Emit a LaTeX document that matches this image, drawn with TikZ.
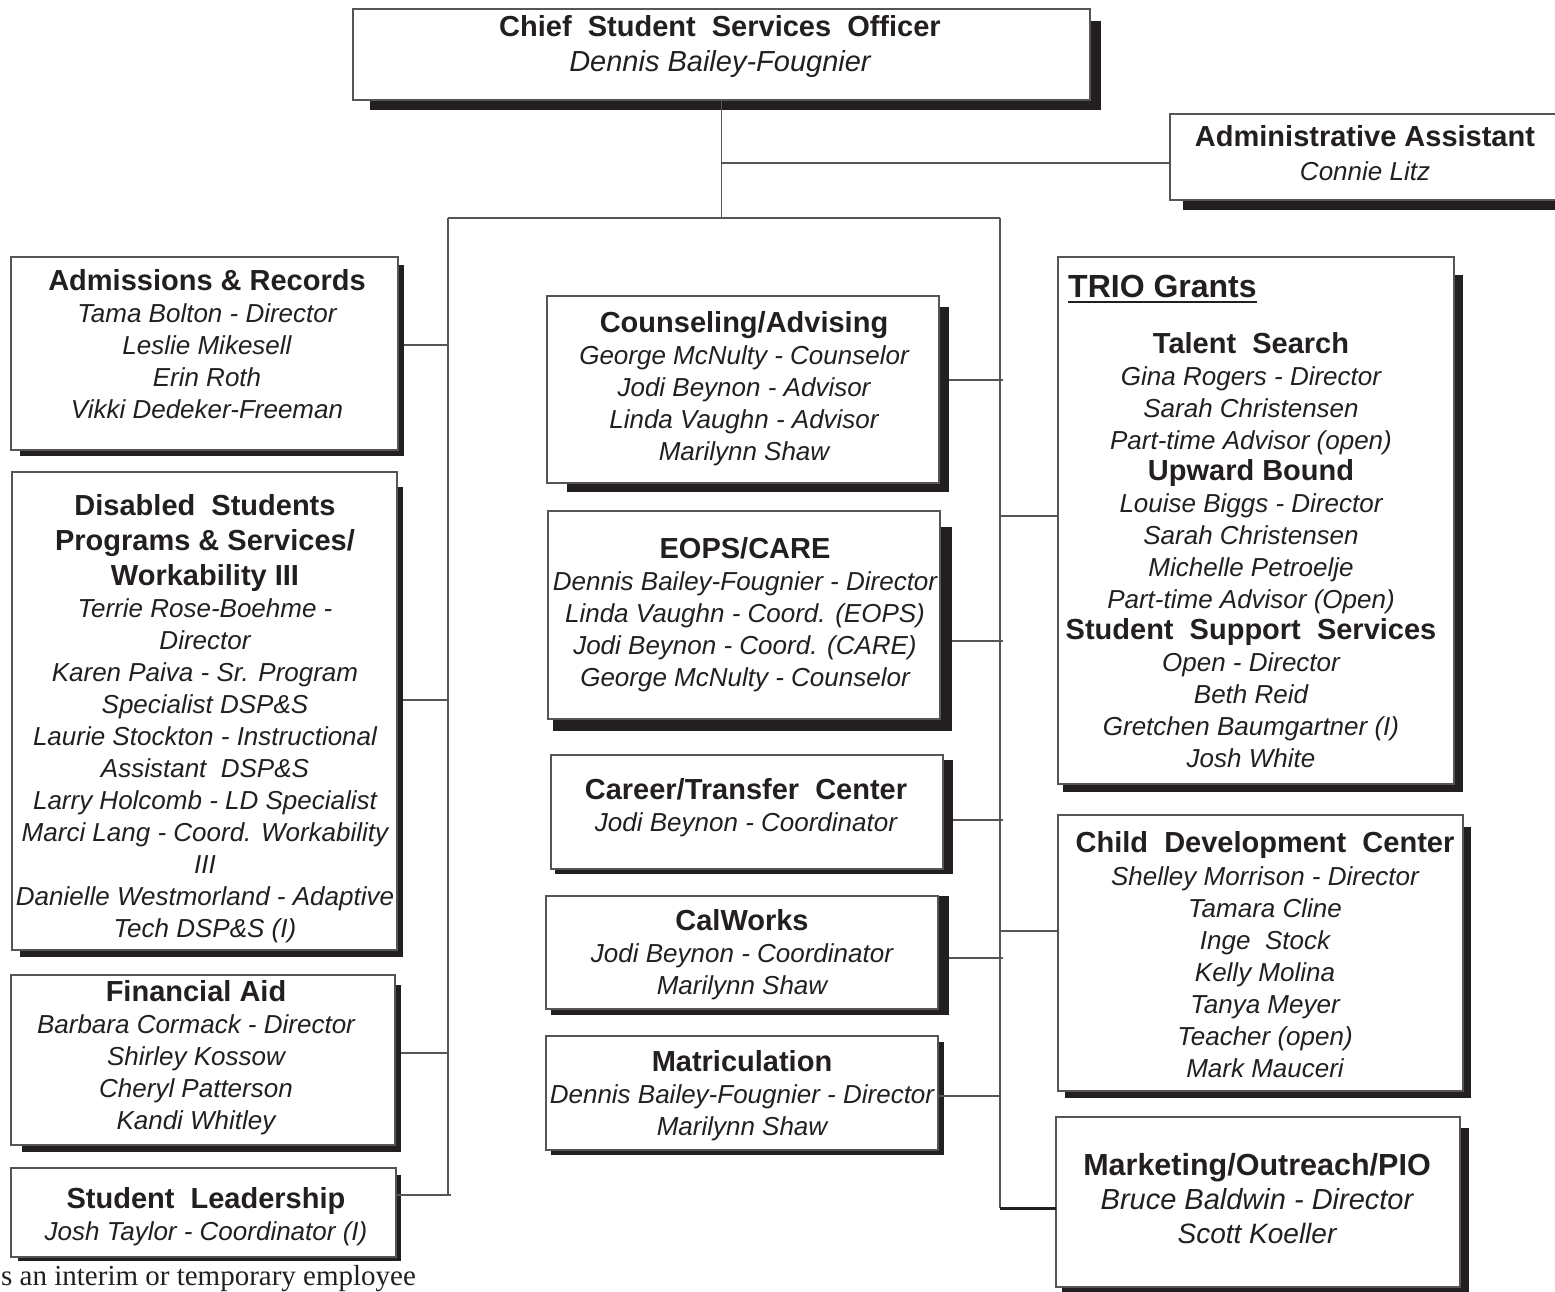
\documentclass[tikz,border=0pt]{standalone}
\usepackage{fontspec}
\setmainfont{Liberation Sans}
\newfontfamily\footfont{Liberation Serif}
\definecolor{ink}{HTML}{231F20}
\definecolor{rulec}{HTML}{555555}
\newcommand\T[1]{{\fontsize{29}{34}\selectfont\bfseries\upshape #1}}
\newcommand\orgbox[9]{%
  \fill[ink] (#6,#7) rectangle (#8,#9);
  \node[boxst, minimum width=#4-#2, minimum height=#5-#3] (#1) at (#2,#3) {};}
\newcommand\txt[4]{%
  \node[txtst] (#1) at (#2,#3) {\begin{tabular}[t]{@{}c@{}}#4\end{tabular}};}
\begin{document}
\begin{tikzpicture}[x=1pt,y=-1pt,
  boxst/.style={draw=rulec, line width=1.5pt, fill=white, inner sep=0pt, outer sep=0pt, anchor=north west},
  txtst/.style={anchor=base, inner sep=0pt, text=ink, font=\fontsize{26}{32}\selectfont\itshape},
  conn/.style={draw=rulec, line width=1.5pt},
  thick conn/.style={draw=ink, line width=3pt}]
\useasboundingbox (0,0) rectangle (1555,1292);
\clip (0,0) rectangle (1555,1292);
\fill[white] (0,0) rectangle (1555,1292);

% bus coordinates
\coordinate (busL) at (448,218);
\coordinate (busR) at (1000,218);
\coordinate (aa) at (720,163);

% connector end points on the buses
\coordinate (cA) at (448,345);
\coordinate (cD) at (448,700);
\coordinate (cF) at (448,1053);
\coordinate (cS) at (451,1195);
\coordinate (cC) at (1003,380);
\coordinate (cE) at (1003,641);
\coordinate (cT) at (1003,820);
\coordinate (cW) at (1003,958);
\coordinate (cM) at (1000,1096);
\coordinate (rT) at (1000,516);
\coordinate (rC) at (1000,931);
\coordinate (rM) at (1000,1208);

% boxes with shadows
\orgbox{chief}{353}{9}{1090}{100}{370}{21}{1101}{110}
\orgbox{admin}{1170}{114}{1562}{200}{1183}{126}{1575}{210}
\orgbox{adm}{11}{257}{398}{450}{20}{265}{404}{456}
\orgbox{dsps}{12}{472}{397}{950}{20}{487}{403}{957}
\orgbox{fin}{11}{975}{395}{1145}{22}{985}{401}{1152}
\orgbox{lead}{11}{1168}{396}{1257}{18}{1175}{401}{1261}
\orgbox{couns}{547}{296}{939}{483}{567}{307}{949}{492}
\orgbox{eops}{548}{511}{940}{719}{553}{527}{952}{731}
\orgbox{career}{551}{755}{943}{869}{555}{760}{953}{874}
\orgbox{calw}{546}{896}{938}{1009}{551}{896}{949}{1015}
\orgbox{matr}{546}{1036}{938}{1150}{551}{1042}{944}{1155}
\orgbox{trio}{1058}{257}{1454}{784}{1063}{275}{1463}{792}
\orgbox{child}{1058}{815}{1463}{1091}{1065}{827}{1471}{1098}
\orgbox{mkt}{1056}{1117}{1460}{1287}{1062}{1128}{1469}{1294}

% trunk lines
\draw[conn] (chief.south) -- (chief.south |- busL);
\draw[conn] (chief.south |- aa) -- (admin.west |- aa);
\draw[conn] (busL) -- (busR);
\draw[conn] (busL) -- (busL |- cS);
\draw[conn] (busR) -- (busR |- rM);

% branch connectors
\draw[conn] (adm.east |- cA) ++(6,0) -- (cA);
\draw[conn] (dsps.east |- cD) ++(6,0) -- (cD);
\draw[conn] (fin.east |- cF) ++(6,0) -- (cF);
\draw[conn] (lead.east |- cS) -- (cS);
\draw[conn] (couns.east |- cC) ++(10,0) -- (cC);
\draw[conn] (eops.east |- cE) ++(12,0) -- (cE);
\draw[conn] (career.east |- cT) ++(10,0) -- (cT);
\draw[conn] (calw.east |- cW) ++(11,0) -- (cW);
\draw[conn] (matr.east |- cM) -- (cM);
\draw[conn] (rT) -- (trio.west |- rT);
\draw[conn] (rC) -- (child.west |- rC);
\draw[thick conn] (rM) -- (mkt.west |- rM);

% texts
\node[txtst] (chieft) at (720,37) {\begin{tabular}[t]{@{}c@{}}\T{Chief\ \ Student\ \ Services\ \ Officer}\\[3pt] {\fontsize{29}{34}\selectfont Dennis Bailey-Fougnier}\end{tabular}};
\node[txtst] (admint) at (1365,147) {\begin{tabular}[t]{@{}c@{}}\T{Administrative Assistant}\\[2pt] Connie Litz\end{tabular}};

\txt{admt}{207}{290}{\T{Admissions \& Records}\\ Tama Bolton - Director\\ Leslie Mikesell\\ Erin Roth\\ Vikki Dedeker-Freeman}
\txt{dspst}{205}{515}{\T{Disabled\ \ Students}\\[3pt] \T{Programs \& Services/}\\[3pt] \T{Workability III}\\ Terrie Rose-Boehme -\\ Director\\ Karen Paiva - Sr. Program\\ Specialist DSP\&S\\ Laurie Stockton - Instructional\\ Assistant\ \ DSP\&S\\ Larry Holcomb - LD Specialist\\ Marci Lang - Coord. Workability\\ III\\ Danielle Westmorland - Adaptive\\ Tech DSP\&S (I)}
\txt{fint}{196}{1001}{\T{Financial Aid}\\ Barbara Cormack - Director\\ Shirley Kossow\\ Cheryl Patterson\\ Kandi Whitley}
\txt{leadt}{206}{1208}{\T{Student\ \ Leadership}\\ Josh Taylor - Coordinator (I)}

\txt{counst}{744}{332}{\T{Counseling/Advising}\\ George McNulty - Counselor\\ Jodi Beynon - Advisor\\ Linda Vaughn - Advisor\\ Marilynn Shaw}
\txt{eopst}{745}{558}{\T{EOPS/CARE}\\ Dennis Bailey-Fougnier - Director\\ Linda Vaughn - Coord. (EOPS)\\ Jodi Beynon - Coord. (CARE)\\ George McNulty - Counselor}
\txt{careert}{746}{799}{\T{Career/Transfer\ \ Center}\\ Jodi Beynon - Coordinator}
\txt{calwt}{742}{930}{\T{CalWorks}\\ Jodi Beynon - Coordinator\\ Marilynn Shaw}
\txt{matrt}{742}{1071}{\T{Matriculation}\\ Dennis Bailey-Fougnier - Director\\ Marilynn Shaw}

\node[txtst, anchor=base west] (triot) at (1068,297) {{\fontsize{32}{36}\selectfont\bfseries\upshape TRIO Grants}};
\draw[ink, line width=2.5pt] ([yshift=-5pt]triot.base west) -- ([yshift=-5pt]triot.base east);
\txt{triob}{1251}{353}{\T{Talent\ \ Search}\\ Gina Rogers - Director\\ Sarah Christensen\\ Part-time Advisor (open)\\[-1pt] \T{Upward Bound}\\ Louise Biggs - Director\\ Sarah Christensen\\ Michelle Petroelje\\ Part-time Advisor (Open)\\[-1pt] \T{Student\ \ Support\ \ Services}\\ Open - Director\\ Beth Reid\\ Gretchen Baumgartner (I)\\ Josh White}
\txt{childt}{1265}{852}{\T{Child\ \ Development\ \ Center}\\[1pt] Shelley Morrison - Director\\ Tamara Cline\\ Inge\ \ Stock\\ Kelly Molina\\ Tanya Meyer\\ Teacher (open)\\ Mark Mauceri}
\node[txtst] (mktt) at (1257,1175) {\begin{tabular}[t]{@{}c@{}}{\fontsize{30.5}{34}\selectfont\bfseries\upshape Marketing/Outreach/PIO}\\[2pt] {\fontsize{29}{34}\selectfont Bruce Baldwin - Director}\\[2pt] {\fontsize{28}{34}\selectfont Scott Koeller}\end{tabular}};

\node[anchor=base west, inner sep=0pt, text=ink, font=\footfont\fontsize{29}{32}\selectfont] (note) at (1,1285) {s an interim or temporary employee};
\end{tikzpicture}
\end{document}
